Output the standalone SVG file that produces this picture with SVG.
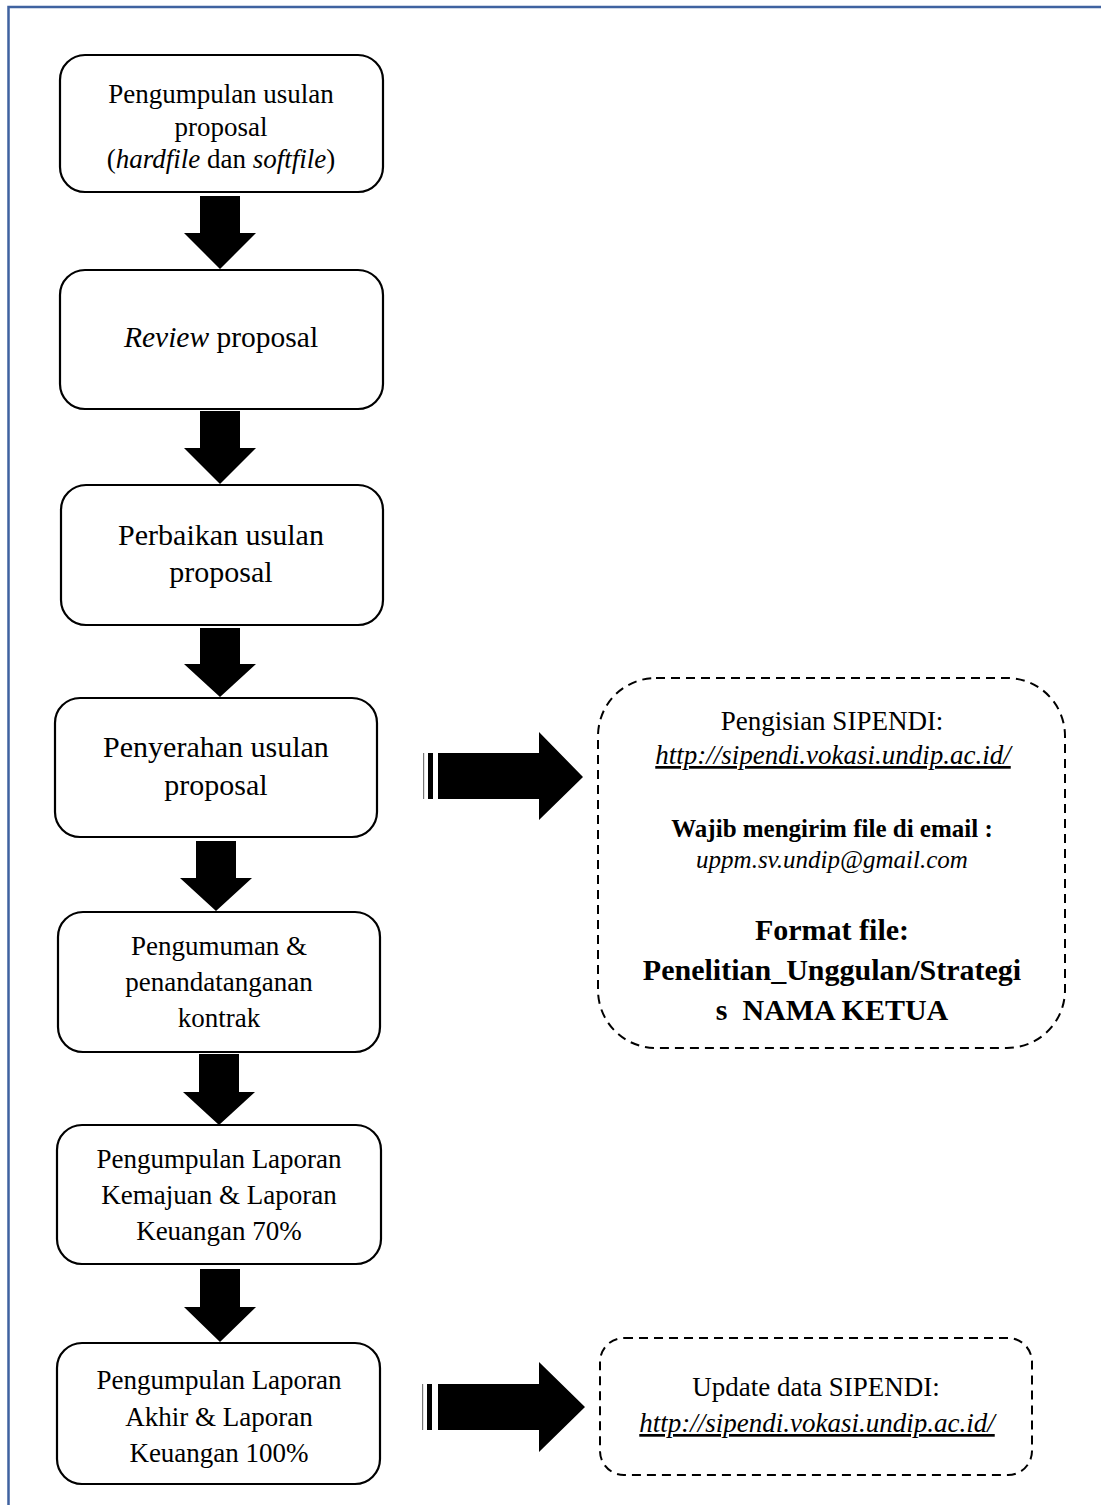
<svg xmlns="http://www.w3.org/2000/svg" width="1101" height="1505" viewBox="0 0 1101 1505">
<style>
.box{fill:#fff;stroke:#000;stroke-width:2.2}
.dbox{fill:#fff;stroke:#000;stroke-width:2;stroke-dasharray:9 6}
.arr{fill:#000}
text{font-family:"Liberation Serif","Times New Roman",serif;fill:#000;text-anchor:middle}
.t27{font-size:27px}
.t30{font-size:30px}
.it{font-style:italic}
.b{font-weight:bold}
.u{text-decoration:underline}
</style>
<rect width="1101" height="1505" fill="#fff"/>
<path d="M8.5,1505 V7 H1101" fill="none" stroke="#3f62a0" stroke-width="2.5"/>

<g id="n1">
<rect class="box" x="60" y="55" width="323" height="137" rx="25"/>
<text class="t27" x="221" y="103">Pengumpulan usulan</text>
<text class="t27" x="221" y="136">proposal</text>
<text class="t27" x="221" y="168">(<tspan class="it">hardfile</tspan> dan <tspan class="it">softfile</tspan>)</text>
</g>
<g id="n2">
<rect class="box" x="60" y="270" width="323" height="139" rx="25"/>
<text x="221" y="347" style="font-size:29.5px"><tspan class="it">Review</tspan> proposal</text>
</g>
<g id="n3">
<rect class="box" x="61" y="485" width="322" height="140" rx="25"/>
<text class="t30" x="221" y="545">Perbaikan usulan</text>
<text class="t30" x="221" y="582">proposal</text>
</g>
<g id="n4">
<rect class="box" x="55" y="698" width="322" height="139" rx="25"/>
<text class="t30" x="216" y="757">Penyerahan usulan</text>
<text class="t30" x="216" y="795">proposal</text>
</g>
<g id="n5">
<rect class="box" x="58" y="912" width="322" height="140" rx="25"/>
<text class="t27" x="219" y="955">Pengumuman &amp;</text>
<text class="t27" x="219" y="991">penandatanganan</text>
<text class="t27" x="219" y="1027">kontrak</text>
</g>
<g id="n6">
<rect class="box" x="57" y="1125" width="324" height="139" rx="25"/>
<text class="t27" x="219" y="1168">Pengumpulan Laporan</text>
<text class="t27" x="219" y="1204">Kemajuan &amp; Laporan</text>
<text class="t27" x="219" y="1240">Keuangan 70%</text>
</g>
<g id="n7">
<rect class="box" x="57" y="1343" width="323" height="141" rx="25"/>
<text class="t27" x="219" y="1389">Pengumpulan Laporan</text>
<text class="t27" x="219" y="1426">Akhir &amp; Laporan</text>
<text class="t27" x="219" y="1462">Keuangan 100%</text>
</g>

<g id="n8">
<rect class="dbox" x="598" y="678" width="467" height="370" rx="58"/>
<text class="t27" x="832" y="730">Pengisian SIPENDI:</text>
<text class="t27 it u" x="833" y="764">http://sipendi.vokasi.undip.ac.id/</text>
<text class="b" x="832" y="837" style="font-size:25px">Wajib mengirim file di email :</text>
<text class="it" x="832" y="868" style="font-size:25px">uppm.sv.undip@gmail.com</text>
<text class="t30 b" x="832" y="940">Format file:</text>
<text class="t30 b" x="832" y="980">Penelitian_Unggulan/Strategi</text>
<text class="t30 b" x="832" y="1020" xml:space="preserve">s  NAMA KETUA</text>
</g>
<g id="n9">
<rect class="dbox" x="600" y="1338" width="432" height="137" rx="24"/>
<text class="t27" x="816" y="1396">Update data SIPENDI:</text>
<text class="t27 it u" x="817" y="1432">http://sipendi.vokasi.undip.ac.id/</text>
</g>

<g id="connectors">
<polygon class="arr" points="200,196 240,196 240,233 256,233 220,269 184,233 200,233"/>
<polygon class="arr" points="200,411 240,411 240,448 256,448 220,484 184,448 200,448"/>
<polygon class="arr" points="200,628 240,628 240,664 256,664 220,697 184,664 200,664"/>
<polygon class="arr" points="196,841 236,841 236,878 252,878 216,911 180,878 196,878"/>
<polygon class="arr" points="199,1054 239,1054 239,1092 255,1092 219,1125 183,1092 199,1092"/>
<polygon class="arr" points="200,1269 240,1269 240,1307 256,1307 220,1342 184,1307 200,1307"/>
<g id="rarrow1">
<rect x="423" y="753" width="1.2" height="46" fill="#777"/>
<rect x="428" y="753" width="5" height="46" fill="#000"/>
<polygon class="arr" points="438,753 539,753 539,732 583,777 539,820 539,799 438,799"/>
</g>
<g id="rarrow2">
<rect x="422" y="1384" width="1.2" height="46" fill="#777"/>
<rect x="427" y="1384" width="5" height="46" fill="#000"/>
<polygon class="arr" points="438,1384 539,1384 539,1362 585,1407 539,1452 539,1430 438,1430"/>
</g>
</g>
</svg>
